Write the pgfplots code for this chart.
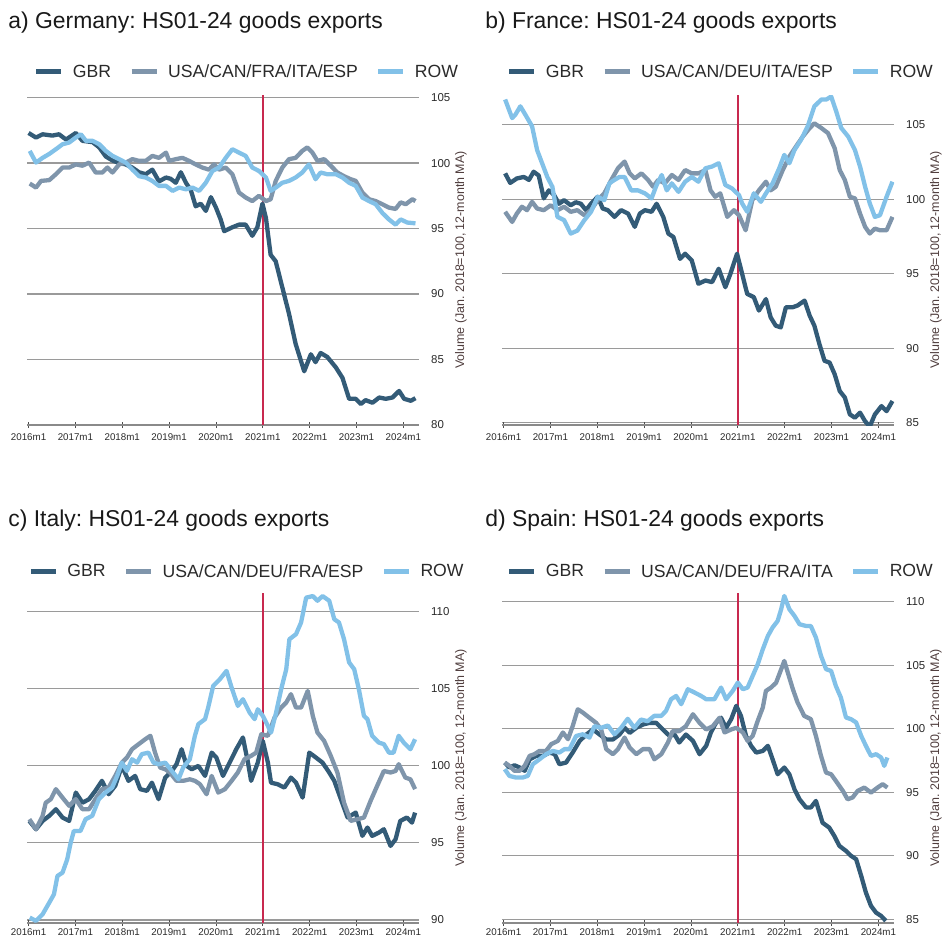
\documentclass[border=0pt]{standalone}
\usepackage{fontspec}
\setmainfont{Liberation Sans}
\usepackage{pgfplots}
\pgfplotsset{compat=1.18}
\frenchspacing

\definecolor{cgbr}{HTML}{335B77}
\definecolor{cmid}{HTML}{7F95AB}
\definecolor{crow}{HTML}{82C1E8}
\definecolor{cred}{HTML}{C8294F}
\definecolor{cgrid}{HTML}{9A9A9A}
\definecolor{caxis}{HTML}{8A8A8A}
\definecolor{ctxt}{HTML}{2A2A2A}
\definecolor{clab}{HTML}{4F3D3D}

\pgfplotsset{
  panel/.style={
    scale only axis, width=392bp, height=330bp,
    xmin=-0.4, xmax=100,
    axis x line*=bottom, axis y line*=right,
    y axis line style={draw=none},
    x axis line style={draw=caxis, line width=1.3bp},
    xtick={0,12,24,36,48,60,72,84,96},
    xticklabels={2016m1,2017m1,2018m1,2019m1,2020m1,2021m1,2022m1,2023m1,2024m1},
    tick align=center, major tick length=6bp,
    xtick style={draw=black!70, line width=0.9bp},
    ytick style={draw=none},
    ymajorgrids, grid style={draw=cgrid, line width=1.2bp},
    /pgf/number format/assume math mode=true,
    xticklabel style={font=\fontsize{9.8}{11}\selectfont, text=ctxt, inner sep=0pt, yshift=-5bp},
    yticklabel style={font=\fontsize{11.5}{13}\selectfont, text=ctxt, inner sep=0pt, anchor=west, xshift=9bp},
    ylabel={Volume (Jan. 2018=100, 12-month MA)},
    ylabel style={font=\fontsize{12.5}{14}\selectfont, text=clab, at={(rel axis cs:1.107,0.5)}, anchor=center, rotate=0},
    title style={anchor=base west, font=\fontsize{23}{27}\selectfont, inner sep=0pt, text=black!90},
    legend columns=3,
    legend cell align=left,
    legend style={draw=none, fill=none, anchor=center, font=\fontsize{17.7}{20}\selectfont, text=ctxt,
      nodes={inner sep=1bp},
      /tikz/every odd column/.append style={column sep=8bp},
      /tikz/every even column/.append style={column sep=17bp}},
    legend image code/.code={\draw[#1, line width=5bp, line cap=butt] (0bp,0bp) -- (25bp,0bp);},
    every axis plot/.append style={line width=4.3bp, line join=round, no markers},
  },
  lowpanel/.style={xticklabel style={yshift=2.5bp}},
  redl/.style={forget plot, draw=cred, line width=1.4bp},
}

\begin{document}
\begin{tikzpicture}
\useasboundingbox (0bp,0bp) rectangle (942bp,-937bp);

% ---------------- a) Germany
\begin{axis}[panel, at={(27bp,-95bp)}, anchor=north west,
  ymin=80, ymax=105.2, ytick={80,85,90,95,100,105},
  title={a) Germany: HS01-24 goods exports}, title style={at={(-0.048,1.182)}},
  legend style={at={(0.56,1.07)}}]
\addplot[redl] coordinates {(60,80) (60,105.2)};
\addplot[cgbr] coordinates {(0,102.3) (1.9,101.95) (3.6,102.2) (6.1,102.1) (7.8,102.2) (9.6,101.8) (12.1,102.3) (13.8,101.7) (16.4,101.6) (18.1,101.2) (19.8,100.5) (21.5,100.2) (23.2,100.0) (24.9,99.9) (26.6,99.65) (28.3,99.3) (30.0,99.15) (31.7,99.5) (33.4,98.6) (35.2,98.9) (36.4,98.8) (37.7,98.5) (39.0,99.3) (40.3,98.5) (41.6,97.9) (42.8,96.7) (44.1,96.9) (45.4,96.35) (46.7,97.4) (48.0,96.6) (49.2,95.7) (50.1,94.8) (52.2,95.1) (53.9,95.3) (55.6,95.3) (57.3,94.45) (58.6,95.1) (59.9,96.9) (60.8,95.8) (62.0,93.0) (63.3,92.5) (65.0,90.5) (66.7,88.5) (68.4,86.2) (70.6,84.1) (72.3,85.4) (73.5,84.8) (74.8,85.5) (76.5,85.2) (78.7,84.4) (80.4,83.6) (82.1,82.0) (83.8,82.0) (85.1,81.6) (86.3,81.9) (88.1,81.7) (89.8,82.1) (91.5,82.0) (93.2,82.1) (94.9,82.6) (96.2,82.0) (97.9,81.85) (99.1,82.05)};
\addlegendentry{GBR}
\addplot[cmid] coordinates {(0.3,98.44) (1.9,98.13) (3.2,98.64) (5.3,98.7) (7.0,99.15) (8.7,99.66) (10.4,99.66) (12.1,99.9) (13.8,99.8) (15.5,100.04) (17.2,99.28) (18.9,99.28) (20.2,99.66) (21.5,99.28) (23.2,99.9) (24.9,100.04) (26.6,100.3) (28.3,100.17) (30.0,100.17) (31.7,100.55) (33.4,100.4) (35.2,100.8) (36.0,100.17) (37.7,100.3) (39.4,100.4) (41.1,100.17) (42.8,99.9) (44.5,99.66) (46.2,99.5) (47.5,99.9) (48.8,99.5) (50.5,99.66) (52.2,99.15) (53.9,97.75) (55.6,97.37) (57.3,97.1) (59.0,97.5) (60.8,97.1) (62.0,97.24) (63.3,98.64) (65.0,99.66) (66.7,100.3) (68.4,100.4) (70.1,100.93) (71.4,101.2) (72.7,100.8) (74.0,100.17) (75.7,100.3) (77.4,99.8) (79.1,99.28) (80.8,99.0) (82.5,98.77) (83.8,98.64) (85.5,97.75) (87.2,97.24) (88.9,97.1) (90.6,96.86) (92.3,96.6) (94.0,96.5) (95.3,97.0) (96.6,96.86) (98.3,97.24) (99.1,97.1)};
\addlegendentry{USA/CAN/FRA/ITA/ESP}
\addplot[crow] coordinates {(0.3,100.93) (1.9,100.04) (3.6,100.4) (5.3,100.7) (7.0,101.06) (8.7,101.44) (10.4,101.57) (12.1,101.95) (13.4,102.2) (14.7,101.7) (16.4,101.7) (18.1,101.44) (19.8,100.93) (21.5,100.55) (23.2,100.3) (24.9,100.04) (26.6,99.5) (28.3,99.0) (30.0,98.9) (31.7,98.64) (33.4,98.26) (35.2,98.26) (36.9,97.88) (38.6,98.13) (40.3,98.0) (42.0,98.13) (43.7,97.88) (45.4,98.5) (47.1,99.4) (48.8,99.66) (50.5,100.4) (52.2,101.06) (53.9,100.8) (55.6,100.55) (57.3,99.66) (59.0,99.4) (60.8,98.9) (62.0,97.88) (63.3,98.13) (65.0,98.5) (66.7,98.64) (68.4,98.9) (70.1,99.28) (71.8,99.9) (73.5,98.77) (74.8,99.28) (76.5,99.15) (78.7,99.15) (80.4,98.9) (82.1,98.5) (83.8,98.26) (85.5,97.37) (87.2,97.1) (88.9,96.86) (90.6,96.2) (92.3,95.7) (94.0,95.3) (95.3,95.7) (97.0,95.46) (99.1,95.4)};
\addlegendentry{ROW}
\end{axis}

% ---------------- b) France
\begin{axis}[panel, at={(502bp,-95bp)}, anchor=north west,
  ymin=84.85, ymax=107.0, ytick={85,90,95,100,105},
  title={b) France: HS01-24 goods exports}, title style={at={(-0.043,1.182)}},
  legend style={at={(0.557,1.07)}}]
\addplot[redl] coordinates {(60,84.85) (60,107.0)};
\addplot[cgbr] coordinates {(0.4,101.74) (1.7,101.1) (3.4,101.4) (5.2,101.5) (6.5,101.3) (7.7,101.85) (9.0,101.6) (10.3,100.06) (11.6,100.6) (12.9,100.3) (14.2,99.7) (15.5,99.94) (17.2,99.6) (18.5,99.8) (19.8,99.7) (21.1,99.27) (22.4,99.7) (24.1,100.17) (25.4,99.38) (26.7,99.27) (28.4,98.82) (30.1,99.27) (31.9,99.04) (33.6,98.15) (34.9,99.04) (36.2,99.27) (37.9,99.16) (39.2,99.7) (40.9,98.82) (42.2,97.7) (43.5,97.47) (45.2,96.0) (46.5,96.35) (48.2,95.9) (49.9,94.33) (51.7,94.55) (53.4,94.44) (55.1,95.34) (56.8,94.1) (58.1,95.0) (59.8,96.35) (61.1,95.0) (62.4,93.65) (64.1,93.43) (65.4,92.53) (67.2,93.3) (68.4,92.08) (69.7,91.52) (71.0,91.4) (72.3,92.75) (74.0,92.75) (75.3,92.87) (77.1,93.2) (78.4,92.19) (79.6,91.52) (80.9,90.28) (82.2,89.16) (83.5,89.04) (84.8,88.26) (86.1,87.13) (87.4,86.7) (88.7,85.56) (90.0,85.34) (91.3,85.68) (92.6,85.1) (93.8,84.75) (95.1,85.56) (96.8,86.12) (98.1,85.78) (99.6,86.46)};
\addlegendentry{GBR}
\addplot[cmid] coordinates {(0.4,99.16) (2.2,98.48) (3.4,99.04) (4.7,99.5) (6.0,99.27) (7.3,99.83) (8.6,99.38) (10.3,99.27) (12.1,99.6) (13.8,99.27) (15.5,99.5) (17.2,99.16) (18.9,99.27) (20.7,98.93) (22.4,99.27) (24.1,99.94) (25.8,100.4) (27.6,101.3) (29.3,102.08) (31.0,102.53) (32.3,101.74) (33.6,101.4) (35.3,101.74) (37.0,101.3) (38.3,100.84) (39.6,101.3) (41.3,101.07) (43.1,101.63) (44.8,101.3) (46.5,101.96) (48.2,101.74) (49.9,101.74) (51.7,101.96) (53.0,100.6) (54.2,100.17) (55.5,100.4) (57.3,98.82) (59.0,99.27) (60.3,98.93) (62.0,97.92) (63.7,99.94) (65.4,100.6) (67.2,101.18) (68.4,100.6) (69.7,100.84) (71.5,101.96) (73.2,102.87) (74.9,103.54) (76.6,104.2) (78.4,104.78) (79.6,105.1) (81.4,104.78) (83.1,104.44) (84.8,103.43) (86.1,101.96) (87.4,101.3) (88.7,100.17) (90.0,100.06) (91.3,99.04) (92.6,98.15) (93.8,97.7) (95.1,98.03) (96.4,97.92) (98.1,97.92) (99.6,98.82)};
\addlegendentry{USA/CAN/DEU/ITA/ESP}
\addplot[crow] coordinates {(0.4,106.7) (2.2,105.45) (3.0,105.67) (4.3,106.24) (5.6,105.67) (7.3,104.9) (8.6,103.3) (9.9,102.4) (11.2,101.5) (12.5,100.84) (13.8,98.82) (15.5,98.6) (17.2,97.7) (18.9,97.9) (20.7,98.6) (22.4,99.16) (24.1,100.17) (25.8,99.94) (27.1,101.07) (28.4,101.3) (29.7,101.5) (31.0,101.5) (32.7,100.6) (34.4,100.6) (36.2,100.4) (37.9,100.06) (39.2,100.96) (40.5,101.63) (41.8,100.6) (43.1,101.07) (44.8,100.5) (46.5,101.18) (48.2,101.5) (49.9,101.18) (51.7,102.08) (53.4,102.2) (55.1,102.42) (56.8,100.96) (58.5,100.73) (60.3,100.28) (61.1,99.72) (62.4,99.16) (64.1,100.4) (65.9,99.83) (67.2,100.4) (68.9,101.07) (70.6,102.08) (71.9,102.98) (73.2,102.42) (74.5,103.3) (76.2,104.0) (77.9,104.9) (79.6,106.24) (81.4,106.7) (82.7,106.7) (83.9,106.9) (85.2,105.9) (86.5,104.78) (88.3,104.2) (90.0,103.3) (91.3,102.2) (92.6,100.84) (93.8,99.72) (95.1,98.82) (96.4,98.93) (98.1,100.17) (99.6,101.18)};
\addlegendentry{ROW}
\end{axis}

% ---------------- c) Italy
\begin{axis}[panel, lowpanel, at={(27bp,-593bp)}, anchor=north west,
  ymin=89.8, ymax=111.2, ytick={90,95,100,105,110},
  title={c) Italy: HS01-24 goods exports}, title style={at={(-0.048,1.182)}},
  legend style={at={(0.56,1.065)}}]
\addplot[redl] coordinates {(60,89.8) (60,111.2)};
\addplot[cgbr] coordinates {(0.2,96.42) (1.9,95.88) (3.6,96.42) (5.3,96.75) (7.0,97.18) (8.7,96.64) (10.4,96.42) (12.1,98.26) (13.8,97.6) (15.5,97.83) (17.1,98.37) (18.8,99.02) (20.5,98.15) (22.2,98.7) (23.9,99.99) (25.6,99.02) (27.3,99.34) (28.6,98.48) (30.3,98.37) (31.6,98.9) (33.3,97.83) (35.0,99.23) (36.7,99.66) (37.9,100.1) (39.2,101.07) (40.5,99.99) (41.8,99.77) (43.5,99.99) (45.2,99.34) (46.9,100.85) (48.1,100.53) (49.8,99.34) (51.5,100.2) (53.2,101.07) (54.9,101.83) (56.2,100.2) (57.0,99.02) (58.7,100.2) (60.0,101.6) (61.3,100.2) (62.1,98.9) (63.8,98.8) (65.5,98.58) (67.2,99.23) (68.5,98.9) (70.2,97.93) (71.9,100.85) (73.6,100.53) (75.3,100.2) (77.0,99.56) (78.3,99.02) (80.0,97.83) (81.7,96.64) (83.8,96.96) (85.5,95.45) (86.8,95.99) (88.0,95.45) (89.7,95.66) (91.0,95.88) (92.7,94.8) (94.0,95.23) (95.2,96.42) (96.9,96.64) (98.2,96.31) (99.0,96.96)};
\addlegendentry{GBR}
\addplot[cmid] coordinates {(0.2,96.53) (1.9,95.88) (3.6,96.75) (4.4,97.6) (5.7,97.83) (7.0,98.48) (8.7,97.93) (10.4,97.4) (12.1,97.83) (13.8,97.18) (15.5,97.18) (17.1,97.83) (18.8,98.48) (20.5,98.58) (22.2,99.34) (23.9,100.2) (25.2,100.53) (26.5,101.07) (28.2,101.4) (29.9,101.72) (31.2,101.94) (32.4,100.85) (33.7,99.88) (35.0,99.77) (36.2,99.56) (37.9,99.02) (39.6,99.02) (41.3,99.12) (42.6,99.02) (43.9,98.8) (45.6,98.15) (46.9,99.34) (48.6,98.26) (50.3,98.48) (52.0,99.02) (53.6,99.56) (55.3,100.42) (57.0,100.64) (58.3,100.85) (59.6,102.04) (61.3,101.94) (63.0,103.12) (64.7,103.77) (66.0,104.1) (67.2,104.64) (68.5,103.77) (69.8,103.77) (71.5,104.85) (72.8,103.23) (74.0,102.15) (75.7,101.61) (77.4,100.64) (79.1,99.56) (80.8,97.6) (82.5,96.42) (84.2,96.53) (85.9,96.64) (87.6,97.72) (89.3,98.7) (91.0,99.66) (92.7,99.56) (94.0,99.66) (94.8,100.1) (96.5,99.23) (97.8,99.12) (99.0,98.48)};
\addlegendentry{USA/CAN/DEU/FRA/ESP}
\addplot[crow] coordinates {(0.3,90.15) (1.9,89.94) (3.6,90.37) (5.3,91.12) (6.5,91.66) (7.4,92.85) (8.7,93.07) (9.9,93.93) (10.8,95.02) (11.6,95.77) (13.3,95.77) (14.6,96.53) (16.3,96.75) (18.0,97.83) (19.7,98.26) (21.4,98.58) (22.7,99.34) (23.9,100.2) (25.2,99.66) (26.5,100.42) (27.8,100.2) (29.0,100.75) (30.7,100.85) (32.0,100.2) (33.3,100.1) (35.0,100.2) (36.7,99.66) (38.4,99.12) (39.6,99.88) (41.3,100.42) (42.6,101.94) (43.5,102.7) (45.2,103.02) (46.0,103.77) (47.3,105.18) (49.0,105.61) (50.7,106.15) (52.0,105.07) (53.6,103.88) (54.9,104.31) (56.6,103.45) (57.9,103.02) (58.7,103.66) (60.0,103.23) (61.3,102.58) (62.1,102.15) (63.4,103.45) (64.7,104.96) (66.0,106.26) (66.8,108.2) (68.5,108.53) (69.8,109.29) (71.1,110.9) (72.8,111.0) (74.0,110.7) (75.3,111.0) (77.0,110.7) (78.3,109.5) (79.5,109.29) (80.8,108.2) (82.1,106.7) (83.4,106.26) (84.6,104.96) (85.9,103.23) (86.8,103.02) (88.0,101.94) (89.7,101.5) (91.0,101.4) (92.3,100.85) (93.5,100.85) (94.8,101.94) (96.1,101.5) (97.8,101.07) (99.0,101.72)};
\addlegendentry{ROW}
\end{axis}

% ---------------- d) Spain
\begin{axis}[panel, lowpanel, at={(502bp,-593bp)}, anchor=north west,
  ymin=84.7, ymax=110.7, ytick={85,90,95,100,105,110},
  title={d) Spain: HS01-24 goods exports}, title style={at={(-0.043,1.182)}},
  legend style={at={(0.557,1.065)}}]
\addplot[redl] coordinates {(60,84.7) (60,110.7)};
\addplot[cgbr] coordinates {(0.3,97.34) (1.5,96.95) (2.8,97.13) (4.1,96.95) (5.4,96.69) (6.7,97.6) (8.4,97.87) (10.1,97.87) (11.8,98.13) (13.1,98.0) (14.3,97.21) (16.0,97.34) (17.7,98.13) (19.5,99.05) (21.2,99.55) (22.9,99.95) (24.6,99.55) (26.3,99.16) (28.0,99.16) (29.7,99.55) (31.0,100.08) (32.3,99.68) (34.0,100.08) (35.7,100.34) (37.4,100.47) (39.1,100.47) (40.8,99.95) (42.5,99.44) (43.8,99.55) (45.0,98.92) (46.7,99.55) (48.5,99.05) (50.2,98.0) (51.9,98.66) (53.1,99.71) (54.4,100.47) (55.7,100.87) (57.0,100.08) (58.3,100.76) (59.6,101.81) (60.8,101.02) (62.1,99.44) (63.4,98.66) (64.7,98.13) (66.4,98.26) (67.7,98.66) (68.9,97.6) (70.2,96.42) (71.9,96.95) (73.2,96.42) (74.5,95.24) (75.8,94.45) (77.5,93.8) (78.7,93.8) (80.0,94.32) (81.7,92.6) (83.4,92.22) (84.7,91.57) (86.0,90.78) (87.7,90.38) (89.0,89.99) (90.3,89.73) (91.6,88.41) (92.8,87.1) (94.1,86.05) (95.4,85.52) (96.7,85.26) (97.9,84.87)};
\addlegendentry{GBR}
\addplot[cmid] coordinates {(0.3,97.34) (1.5,97.08) (2.8,96.69) (4.1,96.69) (5.4,97.08) (6.7,97.87) (7.9,98.0) (9.2,98.26) (10.9,98.26) (12.2,98.79) (13.9,99.05) (15.2,99.71) (16.5,99.18) (17.7,100.21) (19.0,101.54) (20.3,101.28) (22.0,100.87) (23.7,100.47) (25.0,99.95) (26.3,98.4) (28.0,98.0) (29.3,98.4) (31.0,99.31) (32.3,98.52) (34.0,98.0) (35.7,98.4) (37.4,98.4) (38.6,97.6) (40.4,98.0) (42.1,98.92) (43.3,99.82) (45.0,99.82) (46.7,100.21) (48.5,101.15) (50.2,100.47) (51.9,99.95) (53.6,100.21) (55.3,100.87) (56.6,99.71) (58.3,99.95) (59.6,100.08) (61.3,99.71) (62.5,99.05) (63.8,99.44) (65.1,100.63) (66.4,101.68) (67.2,102.99) (68.5,103.25) (69.8,103.63) (71.1,104.69) (71.9,105.35) (72.8,104.43) (74.1,103.12) (75.3,102.07) (77.0,101.02) (78.7,100.76) (80.0,99.44) (81.3,97.87) (82.6,96.55) (83.9,96.42) (85.1,95.9) (86.9,95.11) (88.1,94.45) (89.4,94.59) (90.7,95.11) (92.4,95.37) (94.1,94.98) (95.8,95.37) (97.1,95.64) (98.3,95.37)};
\addlegendentry{USA/CAN/DEU/FRA/ITA}
\addplot[crow] coordinates {(0.3,96.82) (1.5,96.29) (3.2,96.16) (4.9,96.16) (6.2,96.29) (7.5,97.21) (9.2,97.6) (10.9,98.0) (12.6,98.26) (14.3,98.13) (15.6,98.4) (16.9,98.4) (18.6,99.44) (20.3,99.57) (22.0,99.31) (23.3,100.21) (25.0,100.08) (26.7,100.26) (28.4,99.57) (30.1,100.08) (31.8,100.79) (33.5,100.08) (35.2,100.73) (36.9,100.6) (38.6,101.02) (40.4,101.02) (41.6,101.41) (42.9,102.33) (44.2,102.59) (45.5,101.94) (47.2,103.12) (48.9,102.86) (50.6,102.59) (51.9,102.33) (54.0,102.33) (55.7,103.25) (57.0,102.33) (58.7,102.99) (60.0,103.64) (61.3,103.12) (62.5,103.25) (63.8,104.17) (65.1,105.09) (66.4,106.27) (67.7,107.32) (68.9,107.98) (70.2,108.5) (71.1,109.42) (71.9,110.47) (73.2,109.42) (74.5,108.9) (75.8,108.24) (77.5,108.1) (78.7,108.1) (80.0,107.19) (81.3,105.75) (82.6,104.7) (83.9,104.56) (85.1,103.38) (86.4,102.46) (87.7,100.89) (89.0,100.76) (90.3,100.5) (91.6,99.44) (92.8,98.66) (94.1,97.87) (95.4,98.0) (96.7,97.74) (97.5,97.08) (98.3,97.74)};
\addlegendentry{ROW}
\end{axis}
\end{tikzpicture}
\end{document}
